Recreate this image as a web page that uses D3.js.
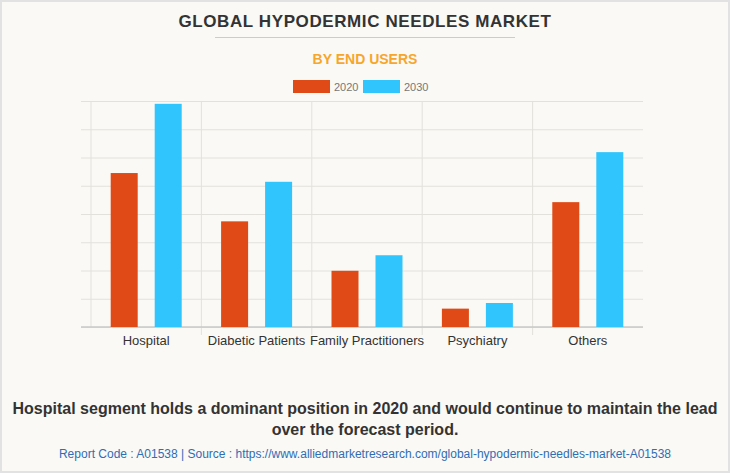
<!DOCTYPE html>
<html>
<head>
<meta charset="utf-8">
<script src="https://cdn.jsdelivr.net/npm/d3@7"></script>
<style>
  html, body { margin: 0; padding: 0; background: #fff; }
  svg { display: block; }
</style>
</head>
<body>
<svg id="chart" width="730" height="473"></svg>
<script>
const categories = ["Hospital", "Diabetic Patients", "Family Practitioners", "Psychiatry", "Others"];
const seriesNames = ["2020", "2030"];
const values2020 = [5.45, 3.74, 1.99, 0.65, 4.42];
const values2030 = [7.90, 5.14, 2.54, 0.85, 6.19];
const yTicks = [0, 1, 2, 3, 4, 5, 6, 7, 8];
const colors = ["#e04a16", "#30c5fd"];

const svg = d3.select("#chart");
const W = 730, H = 473;

svg.append("rect").attr("x", 1).attr("y", 1).attr("width", W - 2).attr("height", H - 2)
  .attr("fill", "#faf9f5").attr("stroke", "#e2e2e2").attr("stroke-width", 2);

const plot = { left: 91, right: 643, top: 101, bottom: 327 };

const x0 = d3.scaleBand().domain(categories).range([plot.left, plot.right]).paddingInner(0).paddingOuter(0);
const y = d3.scaleLinear().domain([0, 8]).range([plot.bottom, plot.top]);

// horizontal gridlines
const yAxis = d3.axisLeft(y).tickValues(yTicks).tickSize(-(plot.right - plot.left + 10)).tickFormat("");
const gy = svg.append("g").attr("transform", `translate(${plot.right},0)`)
  .call(d3.axisRight(y).tickValues(yTicks).tickSize(-(plot.right - 81)).tickFormat(""));
gy.select(".domain").remove();
gy.selectAll(".tick line").attr("stroke", "#e3e1dc").attr("stroke-width", 1);

// vertical separators
const seps = categories.map(c => x0(c));
svg.append("g").selectAll("line").data(seps).join("line")
  .attr("x1", d => d).attr("x2", d => d)
  .attr("y1", plot.top).attr("y2", (d, i) => i === 0 ? plot.bottom : plot.bottom + 8)
  .attr("stroke", "#e3e1dc").attr("stroke-width", 1);

// baseline
svg.append("line").attr("x1", 81).attr("x2", plot.right).attr("y1", plot.bottom).attr("y2", plot.bottom)
  .attr("stroke", "#c8c8c8").attr("stroke-width", 1.5);

// bars
const barW = 27, offset = 22;
const data = categories.map((c, i) => ({ c, vals: [values2020[i], values2030[i]] }));
const groups = svg.append("g").selectAll("g").data(data).join("g");
groups.selectAll("rect").data(d => d.vals.map((v, j) => ({ c: d.c, v, j }))).join("rect")
  .attr("x", d => x0(d.c) + x0.bandwidth() / 2 + (d.j === 0 ? -offset : offset) - barW / 2)
  .attr("y", d => y(d.v))
  .attr("width", barW)
  .attr("height", d => plot.bottom - y(d.v))
  .attr("fill", d => colors[d.j]);

// x labels
const xAxis = d3.axisBottom(x0).tickSize(0).tickPadding(9);
const gx = svg.append("g").attr("transform", `translate(0,${plot.bottom})`).call(xAxis);
gx.select(".domain").remove();
gx.selectAll("text").attr("font-family", "Arial, 'Liberation Sans', sans-serif")
  .attr("font-size", 13).attr("fill", "#333");

// title
svg.append("text").attr("x", 365).attr("y", 27).attr("text-anchor", "middle")
  .attr("font-family", "Arial, 'Liberation Sans', sans-serif").attr("font-weight", "bold")
  .attr("font-size", 17).attr("letter-spacing", 0.6).attr("fill", "#333")
  .text("GLOBAL HYPODERMIC NEEDLES MARKET");
svg.append("line").attr("x1", 215).attr("x2", 515).attr("y1", 37.5).attr("y2", 37.5)
  .attr("stroke", "#cccccc").attr("stroke-width", 1);
svg.append("text").attr("x", 365).attr("y", 64).attr("text-anchor", "middle")
  .attr("font-family", "Arial, 'Liberation Sans', sans-serif").attr("font-weight", "bold")
  .attr("font-size", 14).attr("fill", "#f7a62d")
  .text("BY END USERS");

// legend
const legendX = [293, 363];
const lg = svg.append("g").selectAll("g").data(seriesNames).join("g")
  .attr("transform", (d, i) => `translate(${legendX[i]},80)`);
lg.append("rect").attr("width", 37).attr("height", 13).attr("fill", (d, i) => colors[i]);
lg.append("text").attr("x", 41).attr("y", 10.5)
  .attr("font-family", "Arial, 'Liberation Sans', sans-serif").attr("font-size", 11)
  .attr("fill", "#777").text(d => d);

// bottom text
const noteLines = ["Hospital segment holds a dominant position in 2020 and would continue to maintain the lead", "over the forecast period."];
svg.append("g").selectAll("text").data(noteLines).join("text")
  .attr("x", 365).attr("y", (d, i) => 414 + i * 21).attr("text-anchor", "middle")
  .attr("font-family", "Arial, 'Liberation Sans', sans-serif").attr("font-weight", "bold")
  .attr("font-size", 16).attr("fill", "#333").text(d => d);

svg.append("text").attr("x", 365).attr("y", 458).attr("text-anchor", "middle")
  .attr("font-family", "Arial, 'Liberation Sans', sans-serif").attr("font-size", 12)
  .attr("fill", "#2f6db5")
  .text("Report Code : A01538  |  Source : https://www.alliedmarketresearch.com/global-hypodermic-needles-market-A01538");
</script>
</body>
</html>
